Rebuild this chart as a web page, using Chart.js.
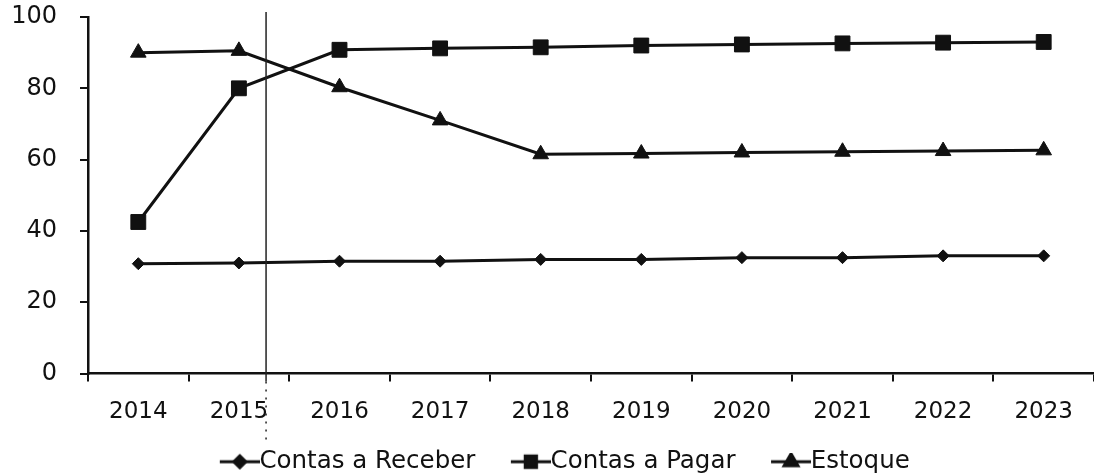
<!DOCTYPE html>
<html>
<head>
<meta charset="utf-8">
<script src="https://cdn.jsdelivr.net/npm/chart.js@4/dist/chart.umd.min.js"></script>
<style>
  html, body { margin: 0; padding: 0; background: #fff; }
  #wrap { width: 1094px; height: 474px; }
</style>
</head>
<body>
<div id="wrap"><canvas id="chart"></canvas></div>
<script>
const years = ['2014', '2015', '2016', '2017', '2018', '2019', '2020', '2021', '2022', '2023'];
const contasReceber = [30.8, 31, 31.5, 31.5, 32, 32, 32.5, 32.5, 33, 33];
const contasPagar = [42.5, 80, 90.8, 91.2, 91.5, 92, 92.3, 92.6, 92.8, 93];
const estoque = [90, 90.5, 80.3, 71, 61.5, 61.7, 62, 62.2, 62.4, 62.6];
const yTicks = [0, 20, 40, 60, 80, 100];

const ink = '#111';

// line-with-marker swatch for the legend; the line sits on the right so it runs into the text
function swatch(style, r) {
    const c = document.createElement('canvas');
    c.width = 88; c.height = 18;
    const ctx = c.getContext('2d');
    ctx.strokeStyle = ink;
    ctx.fillStyle = ink;
    ctx.lineWidth = 3;
    ctx.beginPath();
    ctx.moveTo(48, 9); ctx.lineTo(88, 9);
    ctx.stroke();
    Chart.helpers.drawPoint(ctx, { pointStyle: style, radius: r, borderWidth: 1 }, 68, 9);
    return c;
}

// thin vertical rule running through the plot just right of 2015
const verticalRule = {
    id: 'verticalRule',
    afterDraw(chart) {
        const x = chart.scales.x;
        const px = x.getPixelForValue(1) + 0.27 * (x.getPixelForValue(2) - x.getPixelForValue(1));
        const ctx = chart.ctx;
        ctx.save();
        ctx.strokeStyle = '#222';
        ctx.lineWidth = 1.5;
        ctx.beginPath();
        ctx.moveTo(px, 12);
        ctx.lineTo(px, chart.chartArea.bottom + 8);
        ctx.stroke();
        ctx.setLineDash([2, 6]);
        ctx.beginPath();
        ctx.moveTo(px, chart.chartArea.bottom + 8);
        ctx.lineTo(px, 442);
        ctx.stroke();
        ctx.restore();
    }
};

const series = [
    { label: 'Contas a Receber', data: contasReceber, pointStyle: 'rectRot', pointRadius: 6, legendR: 6 },
    { label: 'Contas a Pagar', data: contasPagar, pointStyle: 'rect', pointRadius: 10.5, legendR: 8 },
    { label: 'Estoque', data: estoque, pointStyle: 'triangle', pointRadius: 9, legendR: 8 }
];

new Chart(document.getElementById('chart'), {
    type: 'line',
    data: {
        labels: years,
        datasets: series.map(s => ({
            ...s,
            borderColor: ink,
            backgroundColor: ink,
            borderWidth: 3,
            pointBorderWidth: 1,
            tension: 0
        }))
    },
    options: {
        responsive: true,
        maintainAspectRatio: false,
        animation: false,
        layout: { autoPadding: false, padding: { top: 17, right: 0, left: 0, bottom: -10 } },
        plugins: {
            tooltip: { enabled: false },
            legend: {
                position: 'bottom',
                labels: {
                    usePointStyle: true,
                    pointStyleWidth: 63,
                    padding: 0,
                    color: ink,
                    font: { family: 'DejaVu Sans', size: 24.5 },
                    generateLabels(chart) {
                        return chart.data.datasets.map((d, i) => ({
                            text: d.label,
                            pointStyle: swatch(d.pointStyle, d.legendR),
                            fontColor: ink,
                            strokeStyle: ink,
                            fillStyle: ink,
                            lineWidth: 0,
                            datasetIndex: i
                        }));
                    }
                }
            }
        },
        scales: {
            x: {
                offset: true,
                afterFit(scale) {
                    scale.height = 76;
                    scale.paddingLeft = 0;
                    scale.paddingRight = 0;
                },
                border: { display: true, color: ink, width: 2.5 },
                grid: { offset: true, drawOnChartArea: false, drawTicks: true, tickLength: 8, color: ink, lineWidth: 2 },
                ticks: { color: ink, padding: 17, maxRotation: 0, font: { family: 'DejaVu Sans', size: 23 } }
            },
            y: {
                min: 0,
                max: 100,
                afterFit(scale) {
                    scale.width = 88;
                    scale.paddingTop = 0;
                    scale.paddingBottom = 0;
                },
                afterBuildTicks(scale) { scale.ticks = yTicks.map(v => ({ value: v })); },
                border: { display: true, color: ink, width: 2.5 },
                grid: { drawOnChartArea: false, drawTicks: true, tickLength: 8, color: ink, lineWidth: 2 },
                ticks: { color: ink, padding: 23, font: { family: 'DejaVu Sans', size: 24 } }
            }
        }
    },
    plugins: [verticalRule]
});
</script>
</body>
</html>
